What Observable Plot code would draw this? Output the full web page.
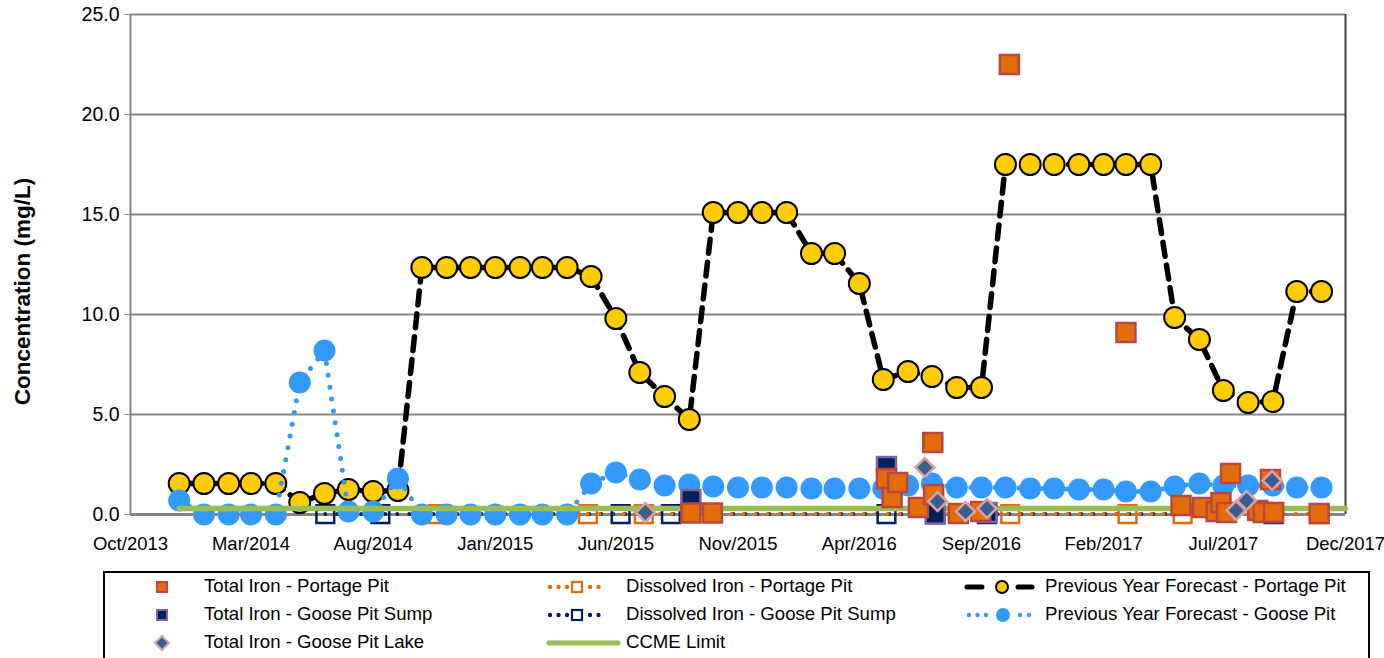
<!DOCTYPE html>
<html><head><meta charset="utf-8">
<script src="https://cdn.jsdelivr.net/npm/d3@7"></script>
<script src="https://cdn.jsdelivr.net/npm/@observablehq/plot@0.6"></script>
<style>
body{margin:0;background:#fff;width:1384px;height:658px;overflow:hidden;position:relative;font-family:"Liberation Sans",Arial,sans-serif;}
#chart{position:absolute;left:0;top:0;}
#legend{position:absolute;left:103px;top:571px;width:1267px;height:100px;border:2px solid #000;box-sizing:border-box;}
#swatches{position:absolute;left:0;top:0;}
.item{position:absolute;font-size:18.6px;line-height:20px;white-space:nowrap;color:#000;}
</style></head><body>
<div id="chart"></div>
<div id="legend"></div>
<svg id="swatches" width="1384" height="658"></svg>
<script>
// ---------- data ----------
const forecastMonths = ["2013-12",
 "2014-01","2014-02","2014-03","2014-04","2014-05","2014-06","2014-07","2014-08","2014-09","2014-10","2014-11","2014-12",
 "2015-01","2015-02","2015-03","2015-04","2015-05","2015-06","2015-07","2015-08","2015-09","2015-10","2015-11","2015-12",
 "2016-01","2016-02","2016-03","2016-04","2016-05","2016-06","2016-07","2016-08","2016-09","2016-10","2016-11","2016-12",
 "2017-01","2017-02","2017-03","2017-04","2017-05","2017-06","2017-07","2017-08","2017-09","2017-10","2017-11"];
const portageForecast = [1.55,1.55,1.55,1.55,1.55,0.6,1.05,1.25,1.15,1.2,
 12.35,12.35,12.35,12.35,12.35,12.35,12.35,11.9,9.8,7.1,5.9,4.75,
 15.1,15.1,15.1,15.1,13.05,13.05,11.55,6.75,7.15,6.9,6.35,6.35,
 17.5,17.5,17.5,17.5,17.5,17.5,17.5,9.85,8.75,6.2,5.6,5.65,11.15,11.15];
const gooseForecast = [0.7,0,0,0,0,6.6,8.2,0.15,0.15,1.8,
 0,0,0,0,0,0,0,1.55,2.1,1.75,1.45,1.5,1.4,1.35,1.35,1.35,1.3,1.3,1.3,1.3,
 1.45,1.55,1.35,1.35,1.35,1.3,1.3,1.25,1.25,1.15,1.15,1.4,1.55,1.45,1.45,1.45,1.35,1.35];

const totalPortageDates = ["2015-09-03","2015-09-30","2016-05-05","2016-05-12","2016-05-19","2016-06-14","2016-07-02","2016-07-03",
 "2016-08-03","2016-08-31","2016-10-06","2017-03-01","2017-05-09","2017-06-05","2017-06-22","2017-06-28","2017-07-05",
 "2017-07-10","2017-08-13","2017-08-20","2017-08-29","2017-09-02","2017-10-29"];
const totalPortageValues = [0.08,0.08,1.8,0.85,1.6,0.35,3.6,1.0,0.05,0.15,22.5,9.1,0.45,0.35,0.15,0.6,0.1,2.05,0.2,0.1,1.75,0.1,0.05];

const totalSumpDates = ["2015-09-03","2016-05-05","2016-07-05","2016-09-08"];
const totalSumpValues = [0.75,2.4,0.03,0.1];

const lakeDates = ["2015-07-08","2016-06-22","2016-07-08","2016-08-12","2016-09-08","2017-07-17","2017-07-30","2017-08-31"];
const lakeValues = [0.1,2.35,0.65,0.15,0.3,0.2,0.7,1.7];

const dissPortageDates = ["2014-10-21","2015-04-27","2015-07-06","2016-10-07","2017-03-03","2017-05-11","2017-10-29"];
const dissPortageValues = [0.02,0.02,0.02,0.02,0.02,0.02,0.02];

const dissSumpDates = ["2014-06-02","2014-08-10","2015-06-07","2015-08-09","2016-05-05","2016-07-05","2016-09-08","2017-09-02"];
const dissSumpValues = [0.02,0.02,0.02,0.02,0.02,0.02,0.02,0.02];

const ccmeDates = ["2013-12-01","2017-12-01"];
const ccmeValues = [0.3,0.3];

const xTickLabels = ["Oct/2013","Mar/2014","Aug/2014","Jan/2015","Jun/2015","Nov/2015","Apr/2016","Sep/2016","Feb/2017","Jul/2017","Dec/2017"];
const yTicks = [0,5,10,15,20,25];
const yTitle = "Concentration (mg/L)";
const seriesNames = ["Total Iron - Portage Pit","Dissolved Iron - Portage Pit","Previous Year Forecast - Portage Pit",
 "Total Iron - Goose Pit Sump","Dissolved Iron - Goose Pit Sump","Previous Year Forecast - Goose Pit",
 "Total Iron - Goose Pit Lake","CCME Limit"];

// ---------- colours ----------
const C = {orange:"#E46C0A", orangeEdge:"#B9473F", navy:"#002060", navyEdge:"#7F63A1",
 lake:"#376092", lakeEdge:"#DDA0A0", yellow:"#FFCC00", blue:"#3399FF", green:"#9BBB59", grid:"#868686"};

// ---------- build tables ----------
const pM = d3.utcParse("%Y-%m"), pD = d3.utcParse("%Y-%m-%d"), pT = d3.utcParse("%b/%Y"), fT = d3.utcFormat("%b/%Y");
const zip = (ds, vs, p) => ds.map((d,i) => ({x: p(d), y: vs[i]}));
const portageF = zip(forecastMonths, portageForecast, pM);
const gooseF = zip(forecastMonths, gooseForecast, pM);
const totalP = zip(totalPortageDates, totalPortageValues, pD);
const totalS = zip(totalSumpDates, totalSumpValues, pD);
const lake = zip(lakeDates, lakeValues, pD);
const dissP = zip(dissPortageDates, dissPortageValues, pD);
const dissS = zip(dissSumpDates, dissSumpValues, pD);
const ccme = zip(ccmeDates, ccmeValues, pD);
const xTicks = xTickLabels.map(pT);
const xDomain = [xTicks[0], xTicks[xTicks.length-1]];

const chart = Plot.plot({
  width: 1384, height: 560,
  marginLeft: 130, marginRight: 39, marginTop: 14, marginBottom: 46,
  style: {fontFamily: '"Liberation Sans", Arial, sans-serif', fontSize: "19px", color: "#000", background: "#fff", overflow: "visible"},
  x: {type: "utc", domain: xDomain},
  y: {domain: [0, 25]},
  marks: [
    Plot.gridY(yTicks.slice(1), {stroke: C.grid, strokeOpacity: 1, strokeWidth: 2}),
    Plot.axisY({ticks: yTicks, tickFormat: d => d.toFixed(1), tickSize: 6, tickPadding: 5, stroke: C.grid, label: null, fontSize: 19.5}),
    Plot.axisX({ticks: xTicks, tickFormat: fT, tickSize: 0, tickPadding: 22, label: null, fontSize: 18.5}),
    Plot.ruleX([xDomain[0]], {y1: 0, y2: 25, stroke: C.grid, strokeWidth: 2}),
    Plot.ruleX([xDomain[1]], {y1: 0, y2: 25, stroke: "#404040", strokeWidth: 2}),
    Plot.ruleY([0], {stroke: C.grid, strokeWidth: 3}),
    Plot.text([yTitle], {frameAnchor: "left", textAnchor: "middle", dx: -108, dy: 27, rotate: -90, fontWeight: "bold", fontSize: 22.5, text: d => d}),
    // dissolved series
    Plot.line(dissS, {x: "x", y: "y", stroke: C.navy, strokeWidth: 4, strokeDasharray: "0,12", strokeLinecap: "round"}),
    Plot.line(dissP, {x: "x", y: "y", stroke: C.orange, strokeWidth: 4, strokeDasharray: "0,12", strokeDashoffset: 6, strokeLinecap: "round"}),
    Plot.dot(dissS, {x: "x", y: "y", symbol: "square", r: 10, fill: "none", stroke: C.navy, strokeWidth: 2.5}),
    Plot.dot(dissP, {x: "x", y: "y", symbol: "square", r: 10, fill: "none", stroke: C.orange, strokeWidth: 2.5}),
    // Portage forecast
    Plot.line(portageF, {x: "x", y: "y", stroke: "#000", strokeWidth: 5.5, strokeDasharray: "14,9"}),
    Plot.dot(portageF, {x: "x", y: "y", r: 10.5, fill: C.yellow, stroke: "#000", strokeWidth: 2}),
    // Goose forecast
    Plot.line(gooseF, {x: "x", y: "y", stroke: C.blue, strokeWidth: 5, strokeDasharray: "0,12", strokeLinecap: "round"}),
    Plot.dot(gooseF, {x: "x", y: "y", r: 11, fill: C.blue}),
    // CCME
    Plot.line(ccme, {x: "x", y: "y", stroke: C.green, strokeWidth: 5.5}),
    // totals
    Plot.dot(totalS, {x: "x", y: "y", symbol: "square", r: 10.7, fill: C.navy, stroke: C.navyEdge, strokeWidth: 2.5}),
    Plot.dot(totalP, {x: "x", y: "y", symbol: "square", r: 10.7, fill: C.orange, stroke: C.orangeEdge, strokeWidth: 2.5}),
    Plot.dot(lake, {x: "x", y: "y", symbol: "diamond2", r: 8.5, fill: C.lake, stroke: C.lakeEdge, strokeWidth: 2.5})
  ]
});
document.getElementById("chart").append(chart);

// ---------- legend ----------
const rows = [587, 615, 643];
const cols = [{sw: 162, tx: 204}, {sw: 573, tx: 626}, {sw: 1000, tx: 1045}];
const layout = [[0,0],[1,0],[2,0],[0,1],[1,1],[2,1],[0,2],[1,2]];
seriesNames.forEach((name, i) => {
  const [c, r] = layout[i];
  const s = document.createElement("span");
  s.className = "item";
  s.textContent = name;
  s.style.left = cols[c].tx + "px";
  s.style.top = (rows[r] - 11) + "px";
  document.body.appendChild(s);
});
const sw = d3.select("#swatches");
function dots(x0, x1, y, color, step) {
  for (let x = x0; x <= x1; x += step) sw.append("circle").attr("cx", x).attr("cy", y).attr("r", 2.2).attr("fill", color);
}
function sq(cx, cy, s, fill, stroke, sw2) {
  sw.append("rect").attr("x", cx - s/2).attr("y", cy - s/2).attr("width", s).attr("height", s)
    .attr("fill", fill).attr("stroke", stroke).attr("stroke-width", sw2);
}
// col 1
sq(162, rows[0], 10, C.orange, C.orangeEdge, 2);
sq(162, rows[1], 10, C.navy, C.navyEdge, 2);
sw.append("path").attr("d", `M162,${rows[2]-7}L169,${rows[2]}L162,${rows[2]+7}L155,${rows[2]}Z`)
  .attr("fill", C.lake).attr("stroke", C.lakeEdge).attr("stroke-width", 2);
// col 2
dots(550, 568, rows[0], C.orange, 8.5); dots(590, 600, rows[0], C.orange, 8.5);
sq(577, rows[0], 10, "#fff", C.orange, 2.2);
dots(550, 568, rows[1], C.navy, 8.5); dots(590, 600, rows[1], C.navy, 8.5);
sq(577, rows[1], 10, "#fff", C.navy, 2.2);
sw.append("line").attr("x1", 549).attr("x2", 618).attr("y1", rows[2]).attr("y2", rows[2])
  .attr("stroke", C.green).attr("stroke-width", 5).attr("stroke-linecap", "round");
// col 3
sw.append("line").attr("x1", 967).attr("x2", 982).attr("y1", rows[0]).attr("y2", rows[0]).attr("stroke", "#000").attr("stroke-width", 5).attr("stroke-linecap", "round");
sw.append("line").attr("x1", 1018).attr("x2", 1032).attr("y1", rows[0]).attr("y2", rows[0]).attr("stroke", "#000").attr("stroke-width", 5).attr("stroke-linecap", "round");
sw.append("circle").attr("cx", 1002).attr("cy", rows[0]).attr("r", 6).attr("fill", C.yellow).attr("stroke", "#000").attr("stroke-width", 2);
dots(969, 987, rows[1], C.blue, 8.5); dots(1020, 1030, rows[1], C.blue, 9);
sw.append("circle").attr("cx", 1003).attr("cy", rows[1]).attr("r", 7).attr("fill", C.blue);
</script></body></html>
